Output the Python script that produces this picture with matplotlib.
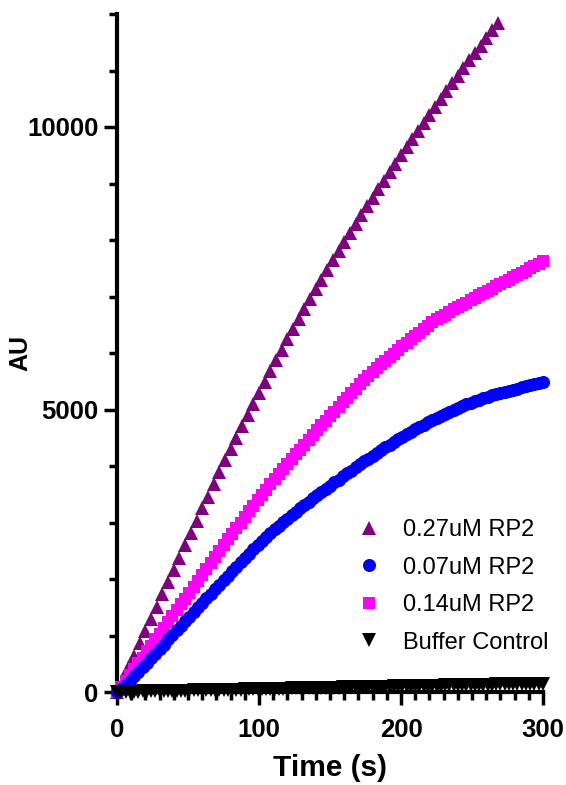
import numpy as np
import matplotlib.pyplot as plt
from matplotlib.ticker import MultipleLocator

plt.rcParams['font.family'] = ['Liberation Sans', 'DejaVu Sans']

# time points (s)
t_fast = list(range(0, 269, 4))      # 0.27uM read every 4 s
t_std = list(range(0, 301, 3))       # other wells every 3 s

rp2_027 = [0, 200, 420, 640, 860, 1080, 1300, 1510, 1730, 1940,
           2160, 2380, 2600, 2820, 3030, 3250, 3460, 3680, 3890, 4100,
           4300, 4500, 4700, 4900, 5100, 5300, 5490, 5680, 5870, 6060,
           6240, 6430, 6610, 6780, 6960, 7130, 7300, 7470, 7640, 7800,
           7960, 8120, 8280, 8440, 8600, 8750, 8900, 9050, 9200, 9350,
           9500, 9640, 9790, 9930, 10070, 10220, 10360, 10500, 10640, 10770,
           10910, 11040, 11180, 11310, 11440, 11580, 11710, 11840]

rp2_007 = [0, 50, 120, 200, 280, 360, 440, 520, 600, 680,
           760, 840, 930, 1010, 1090, 1170, 1250, 1330, 1410, 1500,
           1580, 1660, 1740, 1820, 1900, 1980, 2060, 2140, 2220, 2300,
           2380, 2450, 2530, 2600, 2670, 2740, 2810, 2880, 2940, 3010,
           3070, 3130, 3190, 3250, 3310, 3370, 3430, 3480, 3540, 3600,
           3650, 3710, 3760, 3820, 3870, 3920, 3980, 4030, 4080, 4130,
           4180, 4230, 4280, 4330, 4380, 4430, 4480, 4520, 4570, 4610,
           4650, 4690, 4730, 4770, 4810, 4850, 4890, 4920, 4960, 4990,
           5030, 5060, 5090, 5120, 5150, 5170, 5200, 5220, 5250, 5270,
           5290, 5310, 5330, 5350, 5370, 5390, 5410, 5430, 5450, 5470,
           5490]

rp2_014 = [0, 90, 200, 300, 410, 510, 610, 720, 820, 930,
           1030, 1130, 1240, 1340, 1450, 1550, 1650, 1760, 1860, 1970,
           2070, 2180, 2290, 2390, 2500, 2600, 2700, 2800, 2900, 3000,
           3100, 3200, 3300, 3400, 3490, 3580, 3680, 3770, 3860, 3950,
           4040, 4120, 4210, 4290, 4380, 4460, 4550, 4630, 4720, 4800,
           4880, 4960, 5040, 5130, 5210, 5290, 5370, 5450, 5530, 5600,
           5670, 5730, 5800, 5860, 5930, 5990, 6060, 6120, 6180, 6240,
           6300, 6360, 6420, 6480, 6540, 6600, 6640, 6680, 6730, 6770,
           6810, 6850, 6890, 6940, 6980, 7020, 7060, 7100, 7140, 7180,
           7220, 7260, 7300, 7340, 7380, 7420, 7460, 7500, 7540, 7580,
           7620]

buffer_ctrl = [0, 2, 3, 5, 6, 8, 9, 11, 12, 14,
               15, 17, 18, 20, 21, 23, 24, 26, 27, 29,
               30, 32, 33, 35, 36, 38, 39, 41, 42, 44,
               45, 47, 48, 50, 51, 53, 54, 56, 57, 59,
               60, 62, 63, 65, 66, 68, 69, 71, 72, 74,
               75, 77, 78, 80, 81, 83, 84, 86, 87, 89,
               90, 92, 93, 95, 96, 98, 99, 101, 102, 104,
               105, 107, 108, 110, 111, 113, 114, 116, 117, 119,
               120, 122, 123, 125, 126, 128, 129, 131, 132, 134,
               135, 137, 138, 140, 141, 143, 144, 146, 147, 149,
               150]

fig = plt.figure(figsize=(5.66, 7.85), dpi=100)
ax = fig.add_axes([117/566, 1-692/785, (543-117)/566, (692-14)/785])

ms = 9.4
p1, = ax.plot(t_fast, rp2_027, ls='none', marker='^', ms=ms, color='#800080', mew=0, clip_on=False, zorder=3)
p3, = ax.plot(t_std, rp2_014, ls='none', marker='s', ms=8, color='#FF00FF', mew=0, clip_on=False, zorder=3)
p2, = ax.plot(t_std, rp2_007, ls='none', marker='o', ms=ms, color='#0000FF', mew=0, clip_on=False, zorder=3)
p4, = ax.plot(t_std, buffer_ctrl, ls='none', marker='v', ms=ms, color='black', mew=0, clip_on=False, zorder=4)

ax.set_xlim(0, 300)
ax.set_ylim(0, 12000)
ax.xaxis.set_major_locator(MultipleLocator(100))
ax.xaxis.set_minor_locator(MultipleLocator(10))
ax.yaxis.set_major_locator(MultipleLocator(5000))
ax.yaxis.set_minor_locator(MultipleLocator(1000))

for s in ['top', 'right']:
    ax.spines[s].set_visible(False)
for s in ['left', 'bottom']:
    ax.spines[s].set_linewidth(3)

ax.tick_params(which='major', length=9.4, width=2.5, labelsize=18.5, pad=4)
ax.tick_params(which='minor', length=5.8, width=2.5)
ax.tick_params(axis='x', which='major', pad=9)
for lab in ax.get_xticklabels() + ax.get_yticklabels():
    lab.set_fontweight('bold')

ax.set_xlabel('Time (s)', fontsize=21.5, fontweight='bold', labelpad=9)
ax.set_ylabel('AU', fontsize=18, fontweight='bold')
ax.yaxis.set_label_coords((32-117)/426, 0.5)

ax.legend([p1, p2, p3, p4], ['0.27uM RP2', '0.07uM RP2', '0.14uM RP2', 'Buffer Control'],
          loc='upper left', bbox_to_anchor=(355/566, 1-519/785), bbox_transform=fig.transFigure,
          frameon=False, fontsize=17, numpoints=1, handlelength=1.2, handletextpad=0.84,
          labelspacing=0.66, borderpad=0, borderaxespad=0)

fig.savefig('out.png', dpi=100)
